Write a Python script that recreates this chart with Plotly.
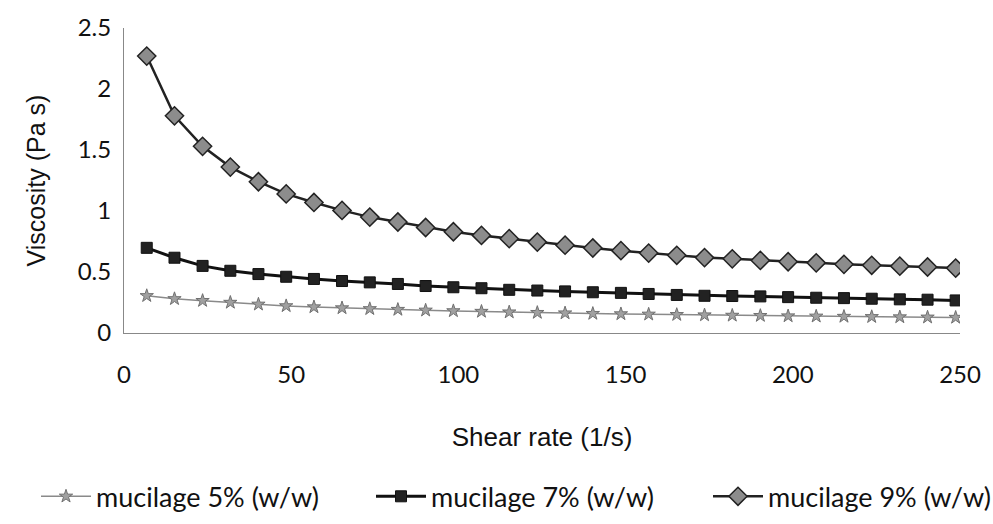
import plotly.graph_objects as go

shear_rate = [6.8, 15.1, 23.5, 31.8, 40.2, 48.5, 56.8, 65.2, 73.5, 81.9,
              90.2, 98.5, 106.9, 115.2, 123.6, 131.9, 140.2, 148.6, 156.9, 165.3,
              173.6, 181.9, 190.3, 198.6, 207.0, 215.3, 223.6, 232.0, 240.3, 248.7]

visc_5 = [0.305, 0.28, 0.265, 0.25, 0.235, 0.222, 0.213, 0.205, 0.198, 0.192,
          0.186, 0.181, 0.176, 0.171, 0.167, 0.163, 0.159, 0.156, 0.153, 0.15,
          0.147, 0.144, 0.142, 0.139, 0.137, 0.135, 0.133, 0.131, 0.129, 0.127]

visc_7 = [0.698, 0.617, 0.55, 0.51, 0.483, 0.461, 0.443, 0.426, 0.415, 0.402,
          0.385, 0.375, 0.367, 0.354, 0.348, 0.341, 0.334, 0.329, 0.32, 0.312,
          0.305, 0.303, 0.30, 0.294, 0.289, 0.286, 0.281, 0.276, 0.273, 0.267]

visc_9 = [2.27, 1.78, 1.53, 1.36, 1.24, 1.14, 1.07, 1.005, 0.95, 0.91,
          0.865, 0.83, 0.80, 0.773, 0.745, 0.72, 0.697, 0.675, 0.655, 0.637,
          0.618, 0.608, 0.595, 0.584, 0.575, 0.563, 0.555, 0.548, 0.541, 0.532]

names = ["mucilage 5% (w/w)", "mucilage 7% (w/w)", "mucilage 9% (w/w)"]
x_ticks = [0, 50, 100, 150, 200, 250]
y_ticks = [0, 0.5, 1, 1.5, 2, 2.5]
y_tick_text = ["0", "0.5", "1", "1.5", "2", "2.5"]

fig = go.Figure()
fig.add_trace(go.Scatter(
    x=shear_rate, y=visc_5, name=names[0], mode="lines+markers", legend="legend",
    line=dict(color="#8a8a8a", width=1.5),
    marker=dict(symbol="star", size=10, color="#a0a0a0",
                line=dict(color="#707070", width=1))))
fig.add_trace(go.Scatter(
    x=shear_rate, y=visc_7, name=names[1], mode="lines+markers", legend="legend2",
    line=dict(color="#111111", width=3),
    marker=dict(symbol="square", size=11, color="#222222",
                line=dict(color="#111111", width=1))))
fig.add_trace(go.Scatter(
    x=shear_rate, y=visc_9, name=names[2], mode="lines+markers", legend="legend3",
    line=dict(color="#222222", width=2.5),
    marker=dict(symbol="diamond", size=14, color="#8c8c8c",
                line=dict(color="#222222", width=1.5))))

def leg(xpx):
    return dict(orientation="h", xref="container", yref="container",
                x=xpx / 993, y=0.052, yanchor="middle", xanchor="left",
                font=dict(family="Lato", size=27, color="#111111"),
                itemwidth=50, bgcolor="rgba(0,0,0,0)")

fig.update_layout(
    width=993, height=524,
    margin=dict(l=124, r=23, t=24, b=191),
    paper_bgcolor="white", plot_bgcolor="white",
    font=dict(family="Lato", color="#111111"),
    showlegend=True,
    legend=leg(36), legend2=leg(371), legend3=leg(708),
)
fig.update_xaxes(
    range=[0, 250], tickvals=x_ticks, showgrid=False, zeroline=False,
    showline=True, linecolor="#888888", linewidth=1, ticks="",
    tickfont=dict(family="Lato", size=24), ticklabelstandoff=20,
    title=dict(text="Shear rate (1/s)", standoff=41,
               font=dict(family="Liberation Sans", size=26)))
fig.update_yaxes(
    range=[0, 2.5], tickvals=y_ticks, ticktext=y_tick_text, showgrid=False,
    zeroline=False, showline=True, linecolor="#888888", linewidth=1, ticks="",
    tickfont=dict(family="Lato", size=24), ticklabelstandoff=7,
    title=dict(text="Viscosity (Pa s)", standoff=24,
               font=dict(family="Liberation Sans", size=25)))

fig.write_html("out.html")
